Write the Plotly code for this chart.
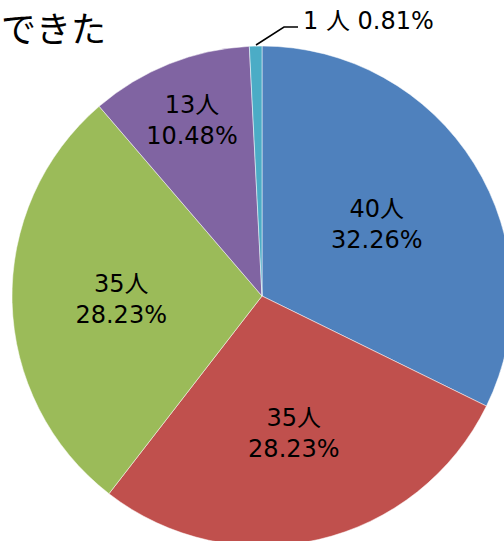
import plotly.graph_objects as go

categories = ["A", "B", "C", "D", "E"]
counts = [40, 35, 35, 13, 1]
colors = ["#4F81BD", "#C0504D", "#9BBB59", "#8064A2", "#4BACC6"]
title_text = "できた"
unit = "人"

W, H = 512, 546
cx, cy, r = 262, 296, 250
FONT = "DejaVu Sans, Noto Sans CJK JP"

texts = [f"{c}{unit}<br>%{{percent:.2%}}" for c in counts]
texts[-1] = ""

fig = go.Figure(go.Pie(
    labels=categories,
    values=counts,
    sort=False,
    direction="clockwise",
    rotation=0,
    marker=dict(colors=colors, line=dict(color="white", width=0.5)),
    texttemplate=texts,
    textposition="inside",
    insidetextorientation="horizontal",
    textfont=dict(family=FONT, size=24, color="black"),
    hoverinfo="label+value+percent",
    showlegend=False,
    domain=dict(x=[(cx - r) / W, (cx + r) / W], y=[1 - (cy + r) / H, 1 - (cy - r) / H]),
))

small_pct = counts[-1] / sum(counts) * 100
fig.add_annotation(
    x=301 / W, y=1 - 21 / H, xref="paper", yref="paper",
    text=f"{counts[-1]} {unit} {small_pct:.2f}%", showarrow=False,
    xanchor="left", yanchor="middle",
    font=dict(family=FONT, size=24, color="black"),
)
fig.add_shape(type="path", xref="paper", yref="paper",
              path=f"M {256/W} {1-45/H} L {284/W} {1-27/H} L {298/W} {1-27/H}",
              line=dict(color="black", width=1.5))

fig.add_annotation(
    x=0, y=1, xref="paper", yref="paper",
    text=title_text, showarrow=False, xanchor="left", yanchor="top",
    font=dict(family="Noto Sans CJK JP", size=35, color="black"),
    borderpad=0,
)

fig.update_layout(width=W, height=H, margin=dict(l=0, r=0, t=0, b=0),
                  paper_bgcolor="white", plot_bgcolor="white")
fig.write_html("out.html", config={"displayModeBar": False},
               post_script="document.body.style.margin='0';document.body.style.overflow='hidden';")
